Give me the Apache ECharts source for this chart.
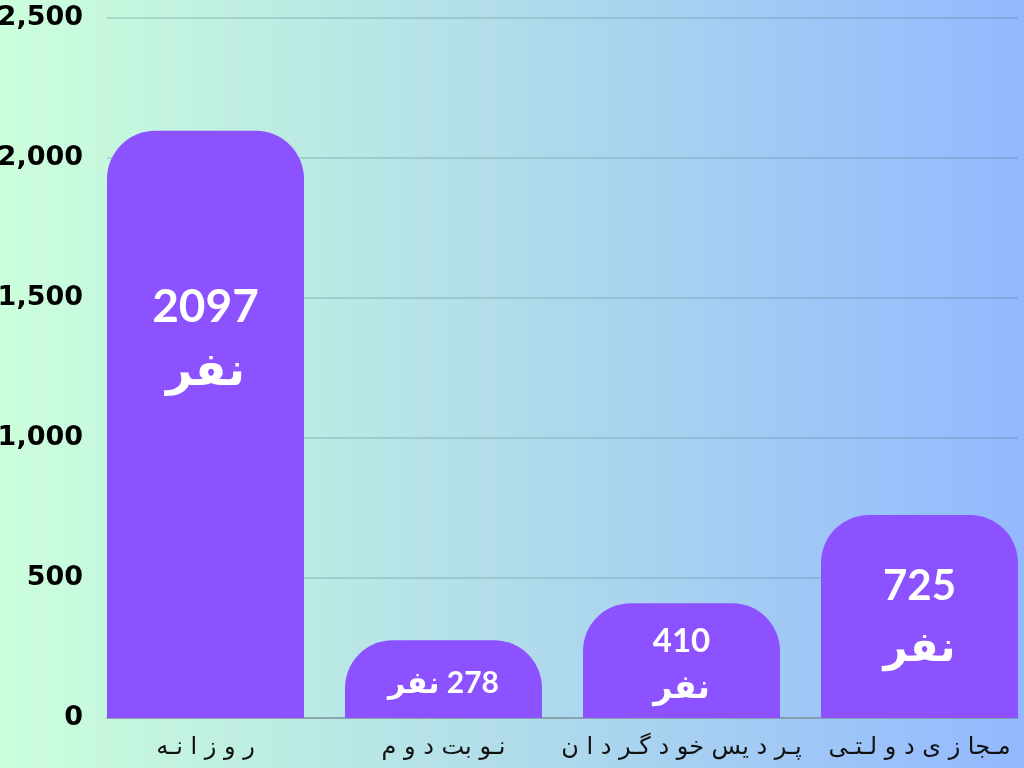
<!DOCTYPE html>
<html>
<head>
<meta charset="utf-8">
<script src="https://cdn.jsdelivr.net/npm/echarts@6/dist/echarts.min.js"></script>
<style>
html,body{margin:0;padding:0;}
#c{width:1024px;height:768px;}
</style>
</head>
<body>
<div id="c"></div>
<script>
var categories = ['ر و ز ا نـه', 'نـو بت د و م', 'پـر د يس خو د گـر د ا ن', 'مـجا ز ی د و لـتـی'];
var values = [2097, 278, 410, 725];
var unitText = 'نفر';
var yTicks = [0, 500, 1000, 1500, 2000, 2500];

var labelStyles = [
  {size: 46, lh: 63, oneLine: false, offset: [0, -86]},
  {size: 30, lh: 40, oneLine: true, offset: [0, 4]},
  {size: 33, lh: 46, oneLine: false, offset: [0, 4]},
  {size: 42, lh: 61, oneLine: false, offset: [0, 0]}
];

var fontF = 'Lato, "DejaVu Sans", sans-serif';
var data = values.map(function (v, i) {
  var s = labelStyles[i];
  return {
    value: v,
    label: {
      show: true,
      position: 'inside',
      offset: s.offset,
      color: '#fff',
      fontFamily: fontF,
      fontWeight: 'bold',
      fontSize: s.size,
      lineHeight: s.lh,
      align: 'center',
      formatter: s.oneLine ? (unitText + ' \u200E' + v) : (v + '\n' + unitText)
    }
  };
});

var chart = echarts.init(document.getElementById('c'));
chart.setOption({
  animation: false,
  backgroundColor: {
    type: 'linear', x: 0, y: 0, x2: 1, y2: 0,
    colorStops: [
      {offset: 0, color: '#ccffdb'},
      {offset: 0.5, color: '#b1dcea'},
      {offset: 1, color: '#93b8ff'}
    ]
  },
  grid: [
    {left: 107, right: 6, top: 18, bottom: 50, outerBoundsMode: 'none', containLabel: false},
    {left: 86.5, width: 952, top: 18, bottom: 50, outerBoundsMode: 'none', containLabel: false}
  ],
  xAxis: [
    {
      gridIndex: 0, type: 'category', data: categories,
      axisLine: {show: true, lineStyle: {color: '#7f9aa3', width: 1.5}},
      axisTick: {show: false}, axisLabel: {show: false}
    },
    {
      gridIndex: 1, type: 'category', data: categories,
      axisLine: {show: false}, axisTick: {show: false},
      axisLabel: {
        show: true, interval: 0, margin: 18, color: '#111', fontSize: 24,
        fontFamily: '"DejaVu Sans", sans-serif'
      }
    }
  ],
  yAxis: [
    {
      gridIndex: 0, type: 'value', min: yTicks[0], max: yTicks[yTicks.length - 1], interval: 500,
      axisLine: {show: false}, axisTick: {show: false},
      splitLine: {lineStyle: {color: 'rgba(70,110,120,0.28)', width: 1.5}},
      axisLabel: {
        margin: 24, color: '#000', fontSize: 27, fontWeight: 'bold',
        fontFamily: '"DejaVu Sans", sans-serif',
        formatter: function (v) { return v.toLocaleString('en-US'); }
      }
    },
    {
      gridIndex: 1, type: 'value', min: 0, max: 2500, show: false,
      splitLine: {show: false}
    }
  ],
  series: [{
    type: 'bar',
    xAxisIndex: 1, yAxisIndex: 1,
    data: data,
    barWidth: 197,
    itemStyle: {color: '#8c52ff', borderRadius: [48, 48, 0, 0]},
    z: 3
  }]
});
</script>
</body>
</html>
